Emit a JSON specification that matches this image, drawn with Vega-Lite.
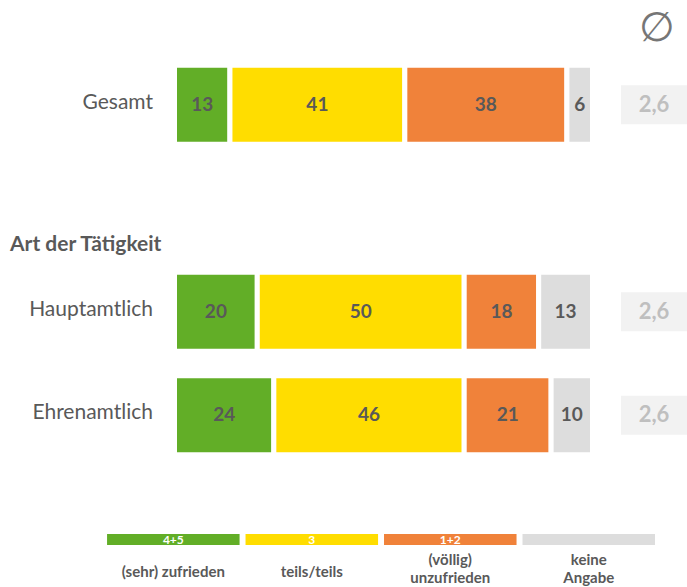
{
  "$schema": "https://vega.github.io/schema/vega-lite/v6.json",
  "padding": 0,
  "spacing": 0,
  "background": "white",
  "config": {"view": {"stroke": null}, "font": "Lato", "concat": {"spacing": 0}},
  "datasets": {
    "bars": [
      {"row": "Gesamt", "cat": "4+5", "k": 1, "value": 13},
      {"row": "Gesamt", "cat": "3", "k": 2, "value": 41},
      {"row": "Gesamt", "cat": "1+2", "k": 3, "value": 38},
      {"row": "Gesamt", "cat": "keine Angabe", "k": 4, "value": 6},
      {"row": "Hauptamtlich", "cat": "4+5", "k": 1, "value": 20},
      {"row": "Hauptamtlich", "cat": "3", "k": 2, "value": 50},
      {"row": "Hauptamtlich", "cat": "1+2", "k": 3, "value": 18},
      {"row": "Hauptamtlich", "cat": "keine Angabe", "k": 4, "value": 13},
      {"row": "Ehrenamtlich", "cat": "4+5", "k": 1, "value": 24},
      {"row": "Ehrenamtlich", "cat": "3", "k": 2, "value": 46},
      {"row": "Ehrenamtlich", "cat": "1+2", "k": 3, "value": 21},
      {"row": "Ehrenamtlich", "cat": "keine Angabe", "k": 4, "value": 10}
    ],
    "avg": [
      {"row": "Gesamt", "avg": "2,6"},
      {"row": "Hauptamtlich", "avg": "2,6"},
      {"row": "Ehrenamtlich", "avg": "2,6"}
    ],
    "leg": [
      {"cat": "4+5", "code": "4+5", "label": ["(sehr) zufrieden"]},
      {"cat": "3", "code": "3", "label": ["teils/teils"]},
      {"cat": "1+2", "code": "1+2", "label": ["(völlig)", "unzufrieden"]},
      {"cat": "keine Angabe", "code": "", "label": ["keine", "Angabe"]}
    ]
  },
  "vconcat": [
    {
      "width": 687,
      "height": 520,
      "layer": [
        {
          "data": {"name": "bars"},
          "mark": {"type": "bar", "stroke": "white", "strokeWidth": 5},
          "encoding": {
            "x": {"field": "value", "type": "quantitative", "stack": "normalize", "scale": {"domain": [-0.41746, 1.22608], "nice": false, "zero": false}, "axis": null},
            "y": {"field": "row", "type": "nominal", "scale": {"domain": ["Gesamt", "Art der Tätigkeit", "Hauptamtlich", "Ehrenamtlich"], "paddingInner": 0.2367, "paddingOuter": 0.6305}, "axis": null},
            "color": {"field": "cat", "type": "nominal", "scale": {"domain": ["4+5", "3", "1+2", "keine Angabe"], "range": ["#62AE27", "#FFDD00", "#F0823A", "#DDDDDD"]}, "legend": null},
            "order": {"field": "k", "type": "quantitative"}
          }
        },
        {
          "data": {"name": "bars"},
          "mark": {"type": "text", "fontWeight": "bold", "fontSize": 19, "color": "#595959"},
          "encoding": {
            "x": {"field": "value", "type": "quantitative", "stack": "normalize", "bandPosition": 0.5},
            "y": {"field": "row", "type": "nominal"},
            "detail": {"field": "cat"},
            "text": {"field": "value", "type": "quantitative"},
            "order": {"field": "k", "type": "quantitative"}
          }
        },
        {
          "data": {"name": "avg"},
          "mark": {"type": "text", "align": "right", "fontSize": 21, "color": "#595959", "dy": -2},
          "encoding": {
            "x": {"datum": -0.0514, "type": "quantitative"},
            "y": {"field": "row", "type": "nominal"},
            "text": {"field": "row"}
          }
        },
        {
          "data": {"values": [{"header": "Art der Tätigkeit"}]},
          "mark": {"type": "text", "align": "left", "fontSize": 21, "fontWeight": "bold", "color": "#595959", "dy": 37},
          "encoding": {
            "x": {"datum": -0.3935, "type": "quantitative"},
            "y": {"field": "header", "type": "nominal"},
            "text": {"field": "header"}
          }
        },
        {
          "data": {"values": [{"row": "Gesamt", "sym": "∅"}]},
          "mark": {"type": "text", "fontSize": 41, "color": "#767676", "dy": -76},
          "encoding": {
            "x": {"datum": 1.154, "type": "quantitative"},
            "y": {"field": "row", "type": "nominal"},
            "text": {"field": "sym"}
          }
        },
        {
          "data": {"name": "avg"},
          "mark": {"type": "bar", "height": 39, "color": "#F2F2F2"},
          "encoding": {
            "x": {"datum": 1.0682, "type": "quantitative"},
            "x2": {"datum": 1.2261},
            "y": {"field": "row", "type": "nominal"}
          }
        },
        {
          "data": {"name": "avg"},
          "mark": {"type": "text", "fontSize": 22, "fontWeight": "bold", "color": "#BFBFBF"},
          "encoding": {
            "x": {"datum": 1.1471, "type": "quantitative"},
            "y": {"field": "row", "type": "nominal"},
            "text": {"field": "avg"}
          }
        }
      ]
    },
    {
      "width": 687,
      "height": 67,
      "data": {"name": "leg"},
      "layer": [
        {
          "mark": {"type": "bar", "height": 11},
          "encoding": {
            "x": {"field": "cat", "type": "nominal", "sort": null, "scale": {"domain": ["4+5", "3", "1+2", "keine Angabe"], "paddingInner": 0.043, "paddingOuter": 0.502, "align": 0.77}, "axis": null},
            "y": {"datum": "Farbe", "type": "nominal", "scale": {"domain": ["Farbe", "Zeile1", "Text"], "paddingInner": 0, "paddingOuter": 0.893}, "axis": null},
            "color": {"field": "cat", "type": "nominal", "legend": null}
          }
        },
        {
          "mark": {"type": "text", "fontSize": 12, "fontWeight": "bold", "color": "white"},
          "encoding": {
            "x": {"field": "cat", "type": "nominal", "sort": null},
            "y": {"datum": "Farbe", "type": "nominal"},
            "text": {"field": "code"}
          }
        },
        {
          "transform": [{"filter": "length(datum.label) == 1"}],
          "mark": {"type": "text", "fontSize": 15, "fontWeight": "bold", "color": "#595959", "dy": 18},
          "encoding": {
            "x": {"field": "cat", "type": "nominal", "sort": null},
            "y": {"datum": "Zeile1", "type": "nominal"},
            "text": {"field": "label"}
          }
        },
        {
          "transform": [{"filter": "length(datum.label) > 1"}],
          "mark": {"type": "text", "fontSize": 15, "fontWeight": "bold", "color": "#595959", "lineHeight": 18, "dy": 6},
          "encoding": {
            "x": {"field": "cat", "type": "nominal", "sort": null},
            "y": {"datum": "Zeile1", "type": "nominal"},
            "text": {"field": "label"}
          }
        }
      ]
    }
  ],
  "resolve": {"scale": {"x": "independent", "y": "independent", "color": "shared"}}
}
